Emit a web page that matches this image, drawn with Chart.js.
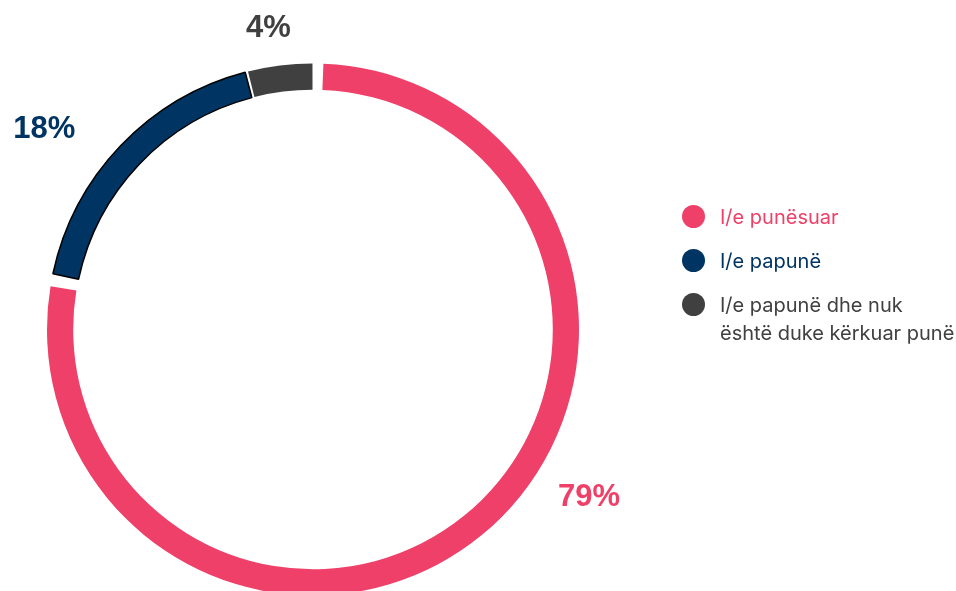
<!DOCTYPE html>
<html>
<head>
<meta charset="utf-8">
<script src="https://cdn.jsdelivr.net/npm/chart.js@4.4.0/dist/chart.umd.min.js"></script>
<style>
  html, body { margin: 0; padding: 0; background: #fff; }
  #wrap { position: relative; width: 956px; height: 591px; overflow: hidden; }
  #legend { position: absolute; left: 682px; top: 203px; font-family: Inter, "Noto Sans", sans-serif; font-size: 20px; line-height: 28px; white-space: nowrap; }
  .item { display: flex; align-items: flex-start; margin-bottom: 16px; }
  .dot { width: 23px; height: 23px; border-radius: 50%; margin-right: 15px; margin-top: 2px; flex: none; }
</style>
</head>
<body>
<div id="wrap">
  <canvas id="chart" width="956" height="591"></canvas>
  <div id="legend"></div>
</div>
<script>
// Data
const categories = ['I/e punësuar', 'I/e papunë', 'I/e papunë dhe nuk\nështë duke kërkuar punë'];
const values = [79, 18, 4];
const valueLabels = ['79%', '18%', '4%'];
const colors = ['#ee4068', '#003462', '#404041'];

// label placement: [angle shift in degrees, distance beyond outer edge]
const labelPlacement = [[-19.5, 61], [-7, 73], [-1.3, 42]];

// Legend (HTML)
const legend = document.getElementById('legend');
categories.forEach((cat, i) => {
    const item = document.createElement('div');
    item.className = 'item';
    const dot = document.createElement('span');
    dot.className = 'dot';
    dot.style.background = colors[i];
    const txt = document.createElement('span');
    txt.style.color = colors[i];
    txt.innerHTML = cat.replace('\n', '<br>');
    item.appendChild(dot);
    item.appendChild(txt);
    legend.appendChild(item);
});

// Outside percentage labels
const valueLabelPlugin = {
    id: 'valueLabels',
    afterDatasetsDraw(chart) {
        const ctx = chart.ctx;
        const meta = chart.getDatasetMeta(0);
        ctx.save();
        ctx.font = 'bold 31px "Liberation Sans", Arial, sans-serif';
        ctx.textAlign = 'center';
        ctx.textBaseline = 'middle';
        meta.data.forEach((arc, i) => {
            const p = arc.getProps(['x', 'y', 'startAngle', 'endAngle', 'outerRadius'], true);
            const a = (p.startAngle + p.endAngle) / 2 + labelPlacement[i][0] * Math.PI / 180;
            const d = p.outerRadius + labelPlacement[i][1];
            ctx.fillStyle = colors[i];
            ctx.fillText(valueLabels[i], p.x + Math.cos(a) * d, p.y + Math.sin(a) * d);
        });
        ctx.restore();
    }
};

new Chart(document.getElementById('chart'), {
    type: 'doughnut',
    data: {
        labels: categories,
        datasets: [{
            data: values,
            backgroundColor: colors,
            borderColor: '#000000',
            borderWidth: [0, 1.5, 0],
            spacing: 8
        }]
    },
    options: {
        responsive: false,
        animation: false,
        radius: 262,
        cutout: '90%',
        layout: { padding: { top: 68, right: 330, left: 0, bottom: 0 } },
        plugins: {
            legend: { display: false },
            tooltip: { enabled: false }
        }
    },
    plugins: [valueLabelPlugin]
});
</script>
</body>
</html>
